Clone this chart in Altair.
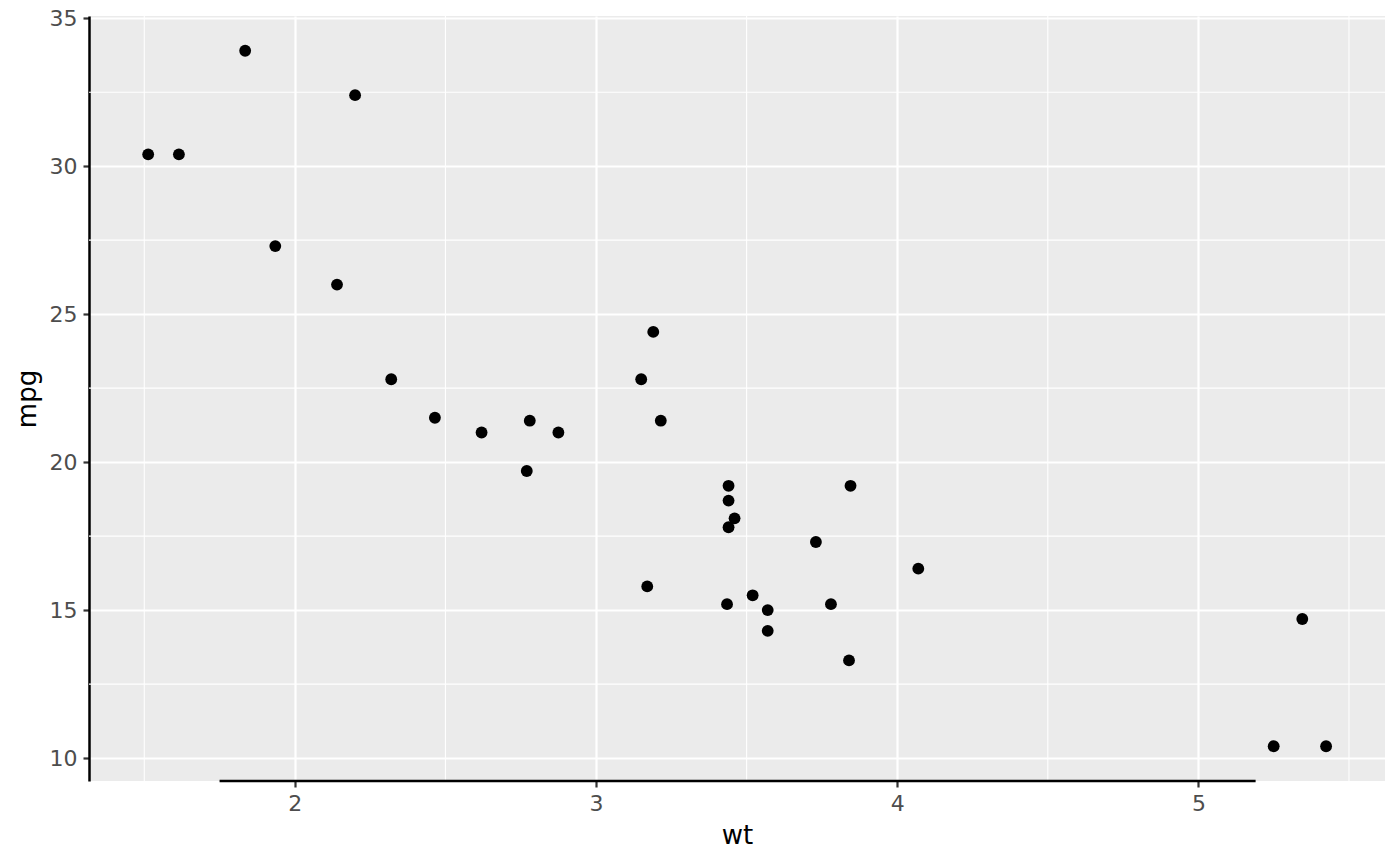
import altair as alt
import pandas as pd

# mtcars: weight (1000 lbs) and miles per gallon
wt = [2.620, 2.875, 2.320, 3.215, 3.440, 3.460, 3.570, 3.190, 3.150, 3.440,
      3.440, 4.070, 3.730, 3.780, 5.250, 5.424, 5.345, 2.200, 1.615, 1.835,
      2.465, 3.520, 3.435, 3.840, 3.845, 1.935, 2.140, 1.513, 3.170, 2.770,
      3.570, 2.780]
mpg = [21.0, 21.0, 22.8, 21.4, 18.7, 18.1, 14.3, 24.4, 22.8, 19.2,
       17.8, 16.4, 17.3, 15.2, 10.4, 10.4, 14.7, 32.4, 30.4, 33.9,
       21.5, 15.5, 15.2, 13.3, 19.2, 27.3, 26.0, 30.4, 15.8, 19.7,
       15.0, 21.4]

x_major = [2, 3, 4, 5]
x_minor = [1.5, 2.5, 3.5, 4.5, 5.5]
y_major = [10, 15, 20, 25, 30, 35]
y_minor = [12.5, 17.5, 22.5, 27.5, 32.5]
x_cap = [1.75, 5.19]   # extent of the capped x axis line

x_dom = [1.3165, 5.6196]
y_dom = [9.225, 35.075]

df = pd.DataFrame({"wt": wt, "mpg": mpg})
xs = alt.Scale(domain=x_dom, nice=False, zero=False)
ys = alt.Scale(domain=y_dom, nice=False, zero=False)

FONT = "DejaVu Sans"

vminor = alt.Chart(pd.DataFrame({"v": x_minor})).mark_rule(
    color="white", strokeWidth=1.1).encode(x=alt.X("v:Q", scale=xs))
hminor = alt.Chart(pd.DataFrame({"v": y_minor})).mark_rule(
    color="white", strokeWidth=1.1).encode(y=alt.Y("v:Q", scale=ys))

points = alt.Chart(df).mark_circle(color="black", opacity=1, size=140).encode(
    x=alt.X("wt:Q", scale=xs, title="wt",
            axis=alt.Axis(values=x_major, format="d", domain=False,
                          grid=True, gridColor="white", gridWidth=2.2,
                          tickColor="#333333", tickWidth=2.2, tickSize=6,
                          labelColor="#4D4D4D", labelFontSize=22,
                          labelFont=FONT, labelPadding=6,
                          titleFont=FONT, titleFontSize=26,
                          titleFontWeight="normal", titleColor="black",
                          titlePadding=8)),
    y=alt.Y("mpg:Q", scale=ys, title="mpg",
            axis=alt.Axis(values=y_major, format="d", domain=True,
                          domainColor="black", domainWidth=2.5,
                          grid=True, gridColor="white", gridWidth=2.2,
                          tickColor="#333333", tickWidth=2.2, tickSize=6,
                          labelColor="#4D4D4D", labelFontSize=22,
                          labelFont=FONT, labelPadding=6,
                          titleFont=FONT, titleFontSize=26,
                          titleFontWeight="normal", titleColor="black",
                          titlePadding=9)),
)

xline = alt.Chart(pd.DataFrame({"a": [x_cap[0]], "b": [x_cap[1]]})).mark_rule(
    color="black", strokeWidth=2.5).encode(
    x=alt.X("a:Q", scale=xs), x2="b:Q", y=alt.datum(y_dom[0], scale=ys))

chart = alt.layer(vminor, hminor, points, xline).properties(
    width=1296, height=765,
    autosize=alt.AutoSizeParams(type="none"),
    padding={"left": 81, "top": 8, "right": 0, "bottom": 80},
).configure_view(fill="#EBEBEB", stroke=None)

chart.save("out.html", embed_options={"renderer": "svg", "actions": False})
